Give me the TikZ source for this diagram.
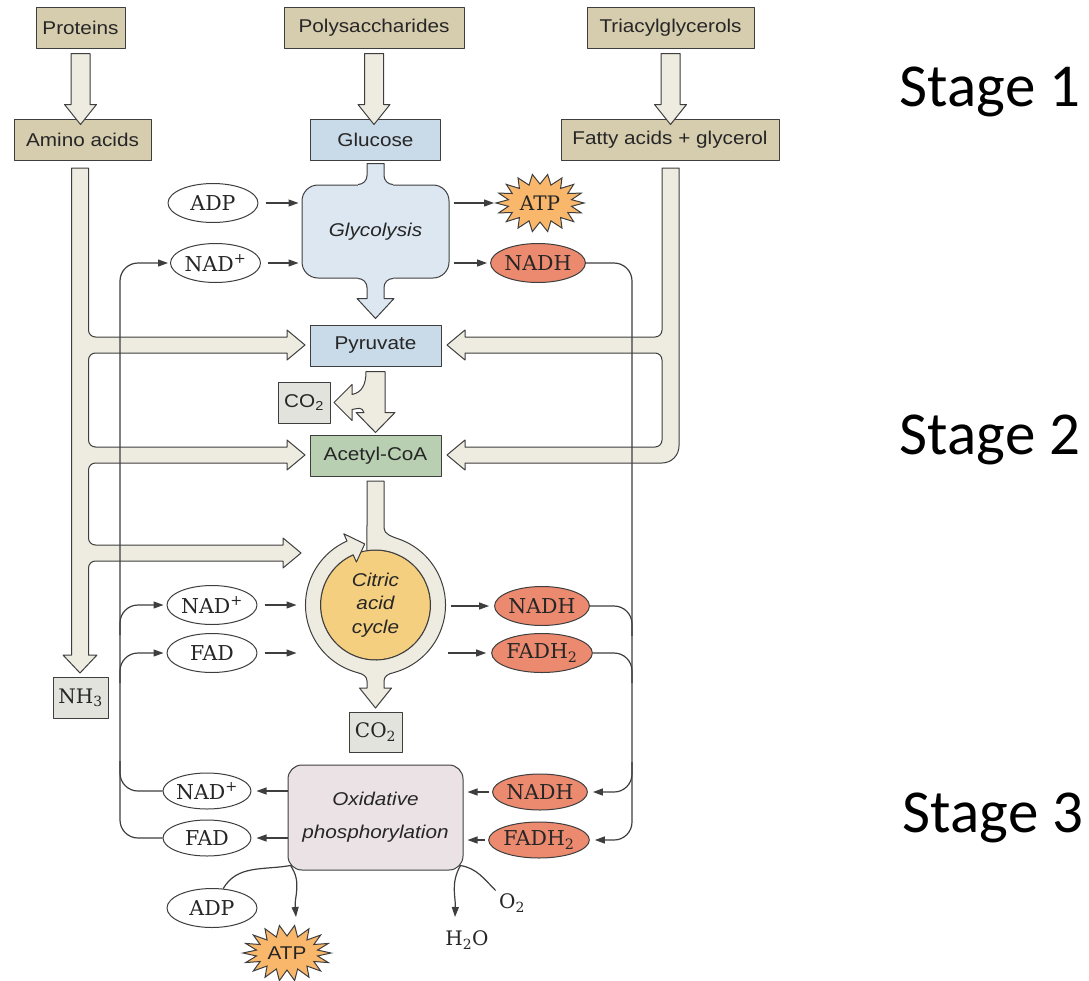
\documentclass[tikz,border=0pt]{standalone}
\usepackage{fontspec}
\setsansfont[FakeStretch=1.12]{Liberation Sans}
\newfontfamily\stagefont{Carlito}
\newfontfamily\labfont{DejaVu Serif}
\usetikzlibrary{shapes.geometric,arrows.meta,calc,positioning}
\pgfdeclarelayer{back}
\pgfsetlayers{back,main}

\definecolor{tanbox}{HTML}{D6CCAE}
\definecolor{cream}{HTML}{EEEBE0}
\definecolor{bluebox}{HTML}{C9DAE8}
\definecolor{glycblue}{HTML}{DCE7F1}
\definecolor{greenbox}{HTML}{B9CFB1}
\definecolor{graybox}{HTML}{E3E3DD}
\definecolor{salmon}{HTML}{EC8A6F}
\definecolor{atporange}{HTML}{F8B76B}
\definecolor{cycleyellow}{HTML}{F5CF80}
\definecolor{oxgray}{HTML}{EAE2E5}
\definecolor{edge}{HTML}{3E3E3E}

% hollow arrow between two stacked boxes
\newcommand{\blockdown}[2]{%
	\draw[blockarr] let \p1=($(#1.south)+(0,-5)$), \p2=($(#2.north)+(0,-6)$) in
		(\x1-9.5pt,\y1) -- (\x1+9.5pt,\y1) -- (\x1+9.5pt,\y2+20pt) -- (\x1+16pt,\y2+20pt)
		-- (\x1,\y2) -- (\x1-16pt,\y2+20pt) -- (\x1-9.5pt,\y2+20pt) -- cycle;}
% spiky burst round an ATP label
\newcommand{\burst}[5]{%
	\draw[atpstar] ($(#1)+(0:#2 and #3)$) \foreach \a in {0,20,...,340}{
		-- ($(#1)+(\a+10:#4 and #5)$) -- ($(#1)+(\a+20:#2 and #3)$)} -- cycle;}

\begin{document}
\begin{tikzpicture}[x=1pt,y=1pt,line join=round,
	box/.style={rectangle,draw=edge,line width=1pt,minimum height=41pt,inner sep=0pt,text=black!85,font=\sffamily\fontsize{18.5}{21}\selectfont},
	tanb/.style={box,fill=tanbox},
	blueb/.style={box,fill=bluebox},
	greenb/.style={box,fill=greenbox},
	grayb/.style={box,fill=graybox},
	grayser/.style={box,fill=graybox,font=\labfont\fontsize{20}{22}\selectfont},
	pill/.style={ellipse,draw=edge,line width=1pt,fill=white,minimum width=90pt,minimum height=39pt,inner sep=0pt,text=black!85,font=\labfont\fontsize{20.5}{22}\selectfont},
	hot/.style={pill,fill=salmon},
	small/.style={minimum width=88pt,minimum height=36pt},
	serif/.style={text=black!85,font=\labfont\fontsize{20}{22}\selectfont},
	flow/.style={draw=edge,line width=1.2pt,-{Triangle[length=10pt,width=7pt]}},
	wire/.style={draw=edge,line width=1.2pt,rounded corners=18pt},
	blockarr/.style={draw=edge,line width=1pt,fill=cream},
	atpstar/.style={draw=edge,line width=1pt,fill=atporange},
	stagelbl/.style={font=\stagefont\fontsize{61}{63}\selectfont}]
	\useasboundingbox (0,0) rectangle (1089,-980);

	% stage 1
	\node[tanb,minimum width=89pt] (prot) at (80.5,-27.5) {Proteins};
	\node[tanb,minimum width=180pt] (poly) at (374,-27.5) {Polysaccharides};
	\node[tanb,minimum width=167pt] (tri) at (670.5,-27.5) {Triacylglycerols};
	\node[tanb,minimum width=137pt] (amino) at (82.5,-139.5) {Amino acids};
	\node[blueb,minimum width=130pt] (gluc) at (375.5,-139.5) {Glucose};
	\node[tanb,minimum width=218pt] (fatty) at (670,-139.5) {Fatty acids + glycerol};
	\blockdown{prot}{amino}
	\blockdown{poly}{gluc}
	\blockdown{tri}{fatty}

	\node[draw=edge,line width=1pt,fill=glycblue,rounded corners=16pt,minimum width=147pt,minimum height=93pt,text=black!85,font=\sffamily\itshape\fontsize{18.5}{21}\selectfont] (glyc) at (375.5,-231.5) {Glycolysis};
	\begin{scope}[shift={(glyc.north)}]
		\fill[glycblue] (-8.5,21) -- (8.5,21) -- (8.5,9) to[out=-90,in=180] (17.5,0) -- (17.5,-2) -- (-17.5,-2) -- (-17.5,0) to[out=0,in=-90] (-8.5,9) -- cycle;
		\draw[edge,line width=1pt] (-17.5,0) to[out=0,in=-90] (-8.5,9) -- (-8.5,21) -- (8.5,21) -- (8.5,9) to[out=-90,in=180] (17.5,0);
	\end{scope}
	\begin{scope}[shift={(glyc.south)}]
		\fill[glycblue] (-17.5,2) -- (17.5,2) -- (17.5,0) to[out=180,in=90] (8.5,-9) -- (8.5,-20) -- (18.5,-20) -- (0,-40) -- (-18.5,-20) -- (-8.5,-20) -- (-8.5,-9) to[out=90,in=0] (-17.5,0) -- cycle;
		\draw[edge,line width=1pt] (17.5,0) to[out=180,in=90] (8.5,-9) -- (8.5,-20) -- (18.5,-20) -- (0,-40) -- (-18.5,-20) -- (-8.5,-20) -- (-8.5,-9) to[out=90,in=0] (-17.5,0);
	\end{scope}

	\node[pill] (adpA) at (213,-203) {ADP};
	\node[pill] (nadA) at (215.5,-263) {NAD\textsuperscript{+}};
	\node[serif] (atpA) at (540,-203) {ATP};
	\node[hot] (nadhA) at (538,-263) {NADH};
	\begin{pgfonlayer}{back}
		\burst{atpA}{44}{29}{32}{19}
	\end{pgfonlayer}

	% stage 2
	\node[blueb,minimum width=131pt] (pyr) at (375.5,-345.5) {Pyruvate};
	\node[greenb,minimum width=131pt] (acoa) at (375.5,-455.5) {Acetyl-CoA};
	\node[grayb,minimum width=52pt] (co2a) at (304,-402.5) {CO\textsubscript{2}};
	\begin{scope}[shift={(pyr.south)}]
		\draw[blockarr] (-9.5,-5) -- (9.5,-5) -- (9.5,-46) -- (19.5,-46) -- (0,-66) -- (-19.5,-46) -- (-11.5,-46)
			.. controls (-13.5,-40) and (-17.5,-42) .. (-23.5,-43) -- (-23.5,-54) -- (-41.5,-36) -- (-23.5,-18) -- (-23.5,-28)
			.. controls (-13.5,-26) and (-9.5,-18) .. (-9.5,-5) -- cycle;
	\end{scope}

	% amino acid and fatty acid trunks
	\draw[blockarr] (71.5,-168) -- (71.5,-655) -- (63,-655) -- (80,-673) -- (97,-655) -- (88.5,-655)
		-- (88.5,-568) to[out=90,in=180] (95.5,-561) -- (283,-561) -- (283,-568) -- (301,-553) -- (283,-538) -- (283,-545)
		-- (95.5,-545) to[out=180,in=-90] (88.5,-538) -- (88.5,-470) to[out=90,in=180] (95.5,-463) -- (287,-463) -- (287,-470) -- (305,-455) -- (287,-440) -- (287,-447)
		-- (95.5,-447) to[out=180,in=-90] (88.5,-440) -- (88.5,-360) to[out=90,in=180] (95.5,-353) -- (287,-353) -- (287,-360) -- (305,-345) -- (287,-330) -- (287,-337)
		-- (95.5,-337) to[out=180,in=-90] (88.5,-330) -- (88.5,-168) -- cycle;
	\draw[blockarr] (662,-168) -- (662,-330) to[out=-90,in=0] (655,-337) -- (465,-337) -- (465,-330) -- (447,-345) -- (465,-360) -- (465,-353)
		-- (655,-353) to[out=0,in=90] (662,-360) -- (662,-440) to[out=-90,in=0] (655,-447) -- (465,-447) -- (465,-440) -- (447,-455) -- (465,-470) -- (465,-463)
		-- (662,-463) to[out=0,in=-90] (679,-446) -- (679,-168) -- cycle;
	\node[grayser,minimum width=55pt] (nh3) at (80.5,-697.5) {NH\textsubscript{3}};

	% citric acid cycle
	\coordinate (tcaC) at (375.5,-605);
	\begin{scope}[shift={(tcaC)}]
		\filldraw[fill=cycleyellow,draw=edge,line width=1pt] (0,0) circle (55);
		\draw[blockarr] (8.5,124) -- (8.5,77) .. controls (8.5,71) and (16,68.5) .. (70:70) arc[start angle=70,end angle=-246,radius=70]
			-- (114:78) -- (100:62) -- (114:47) -- (114:55) arc[start angle=114,end angle=458.9,radius=55] -- (-8.5,124) -- cycle;
		\fill[cream] (-17,-64) -- (17,-64) -- (17,-67.9) to[out=194,in=90] (8.5,-76) -- (8.5,-83) -- (16,-83) -- (0,-103) -- (-16,-83) -- (-8.5,-83) -- (-8.5,-76) to[out=90,in=-14] (-17,-67.9) -- cycle;
		\draw[edge,line width=1pt] (17,-67.9) to[out=194,in=90] (8.5,-76) -- (8.5,-83) -- (16,-83) -- (0,-103) -- (-16,-83) -- (-8.5,-83) -- (-8.5,-76) to[out=90,in=-14] (-17,-67.9);
	\end{scope}
	\node[align=center,text=black!85,font=\sffamily\itshape\fontsize{18.5}{23.5}\selectfont] (tca) at (tcaC) {Citric\\acid\\cycle};
	\node[grayser,minimum width=53pt,minimum height=40pt] (co2b) at (375.5,-732) {CO\textsubscript{2}};

	\node[pill] (nadB) at (212,-605) {NAD\textsuperscript{+}};
	\node[pill] (fadB) at (212,-653) {FAD};
	\node[hot] (nadhB) at (542,-606) {NADH};
	\node[hot] (fadhB) at (542,-653) {FADH\textsubscript{2}};

	% stage 3
	\node[draw=edge,line width=1pt,fill=oxgray,rounded corners=14pt,minimum width=175pt,minimum height=105pt,align=center,text=black!85,font=\sffamily\itshape\fontsize{18.5}{33}\selectfont] (oxph) at (375.5,-817.5) {Oxidative\\phosphorylation};
	\node[pill,small] (nadC) at (207,-791) {NAD\textsuperscript{+}};
	\node[pill,small] (fadC) at (207,-838) {FAD};
	\node[hot,small] (nadhC) at (540,-792) {NADH};
	\node[hot,small] (fadhC) at (539,-840) {FADH\textsubscript{2}};
	\node[pill] (adpC) at (212,-908) {ADP};
	\node[text=black!85,font=\sffamily\fontsize{18.5}{21}\selectfont] (atpC) at (287,-953) {ATP};
	\begin{pgfonlayer}{back}
		\burst{atpC}{44}{28}{31}{17}
	\end{pgfonlayer}
	\node[serif] (h2o) at (467,-940) {H\textsubscript{2}O};
	\node[serif] (o2) at (512,-903) {O\textsubscript{2}};

	\node[stagelbl] (st1) at (990,-92) {Stage 1};
	\node[stagelbl] (st2) at (990,-440) {Stage 2};
	\node[stagelbl] (st3) at (993,-818) {Stage 3};

	% short reaction arrows
	\draw[flow] ($(adpA.east)+(7,0)$) -- ($(adpA.east -| glyc.west)+(-3,0)$);
	\draw[flow] ($(nadA.east)+(7,0)$) -- ($(nadA.east -| glyc.west)+(-3,0)$);
	\draw[flow] ($(glyc.east |- atpA)+(4,0)$) -- ($(atpA)+(-46,0)$);
	\draw[flow] ($(glyc.east |- nadhA)+(4,0)$) -- ($(nadhA.west)+(-3,0)$);
	\draw[flow] ($(nadB.east)+(7,0)$) -- ($(nadB.east -| tcaC)+(-79,0)$);
	\draw[flow] ($(fadB.east)+(7,0)$) -- ($(fadB.east -| tcaC)+(-79,0)$);
	\draw[flow] ($(nadhB.west -| tcaC)+(75,0)$) -- ($(nadhB.west)+(-5,0)$);
	\draw[flow] ($(fadhB.west -| tcaC)+(72,0)$) -- ($(fadhB.west)+(-5,0)$);
	\draw[flow] (oxph.west |- nadC) -- ($(nadC.east)+(5,0)$);
	\draw[flow] (oxph.west |- fadC) -- ($(fadC.east)+(5,0)$);
	\draw[flow] ($(nadhC.west)+(-3,0)$) -- ($(oxph.east |- nadhC)+(4,0)$);
	\draw[flow] ($(fadhC.west)+(-3,0)$) -- ($(oxph.east |- fadhC)+(4,0)$);

	% carrier loops
	\coordinate (loopL) at (120,0);
	\coordinate (loopR) at (632,0);
	\draw[wire,flow] (fadC.west) -| (loopL |- nadA) -- ($(nadA.west)+(-2,0)$);
	\draw[wire] (nadC.west) -| ($(loopL |- nadC)+(0,30)$);
	\draw[wire,flow] ($(loopL |- nadB)+(0,-30)$) |- ($(nadB.west)+(-3,0)$);
	\draw[wire,flow] ($(loopL |- fadB)+(0,-30)$) |- ($(fadB.west)+(-3,0)$);
	\draw[wire,flow] (nadhA.east) -| (loopR |- fadhC) -- ($(fadhC.east)+(5,0)$);
	\draw[wire,flow] ($(loopR |- nadhC)+(0,30)$) |- ($(nadhC.east)+(5,0)$);
	\draw[wire] (nadhB.east) -| ($(loopR |- nadhB)+(0,-30)$);
	\draw[wire] (fadhB.east) -| ($(loopR |- fadhB)+(0,-30)$);

	% ATP synthesis and water
	\draw[flow] (adpC.60) to[out=60,in=190] ($(oxph.south west)+(3,5)$) to[out=-55,in=95] ($(atpC)+(9,36)$);
	\draw[flow] (o2.north west) to[out=135,in=-10] ($(oxph.south east)+(-3,5)$) to[out=-120,in=88] ($(h2o)+(-12,23)$);
\end{tikzpicture}
\end{document}
